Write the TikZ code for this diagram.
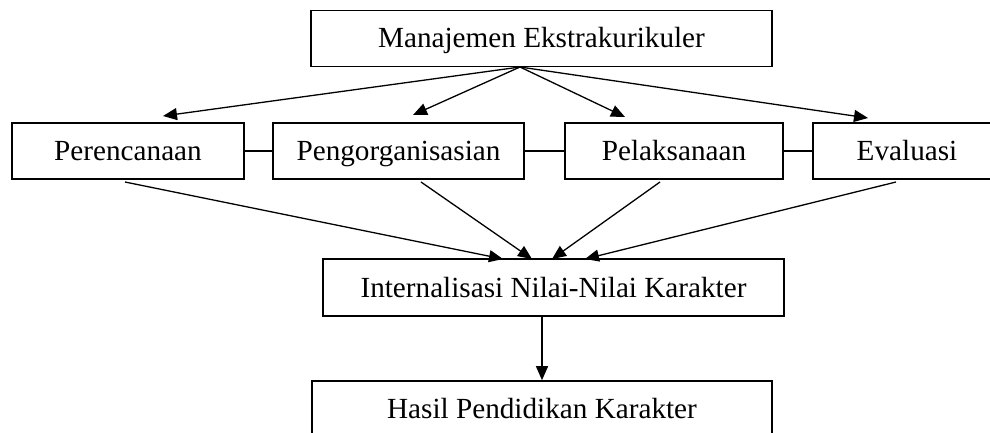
\documentclass[tikz,border=0pt]{standalone}
\usepackage{fontspec}
\setmainfont{Liberation Serif}
\usetikzlibrary{arrows.meta}
\begin{document}
\begin{tikzpicture}[x=1pt,y=-1pt,
  boxnode/.style={draw=black,line width=1.6pt,inner sep=0pt,minimum height=56pt,text height=23.4pt,text depth=4.1pt,font=\fontsize{29.2}{34}\selectfont},
  arrowline/.style={line width=1.3pt,-{Triangle[length=14pt,width=12pt]}},
  linkline/.style={line width=1.6pt}]
\useasboundingbox (0,0) rectangle (990,432);
\clip (0,0) rectangle (990,432);
\node[boxnode,minimum width=461pt] (top) at (541.5,38.3) {Manajemen Ekstrakurikuler};
\node[boxnode,minimum width=232pt] (p1) at (128,151) {Perencanaan};
\node[boxnode,minimum width=251pt] (p2) at (398.5,151) {Pengorganisasian};
\node[boxnode,minimum width=218pt] (p3) at (674,151) {Pelaksanaan};
\node[boxnode,minimum width=188pt] (p4) at (907,151) {Evaluasi};
\node[boxnode,minimum width=461pt,minimum height=57pt] (int) at (553.5,287.5) {Internalisasi Nilai-Nilai Karakter};
\node[boxnode,minimum width=460pt] (has) at (542,409) {Hasil Pendidikan Karakter};
% coordinates
\coordinate (src) at (520,67);
\coordinate (t1) at (163,116);
\coordinate (t2) at (413,115);
\coordinate (t3) at (625,117);
\coordinate (t4) at (868,118);
\coordinate (s1) at (125,182);
\coordinate (s2) at (421,182);
\coordinate (s3) at (660,182);
\coordinate (s4) at (896,182);
\coordinate (u1) at (503,259);
\coordinate (u2) at (532,259);
\coordinate (u3) at (552,259);
\coordinate (u4) at (585,259);
\draw[arrowline] (src) -- (t1);
\draw[arrowline] (src) -- (t2);
\draw[arrowline] (src) -- (t3);
\draw[arrowline] (src) -- (t4);
\draw[linkline] (p1.east) -- (p2.west);
\draw[linkline] (p2.east) -- (p3.west);
\draw[linkline] (p3.east) -- (p4.west);
\draw[arrowline] (s1) -- (u1);
\draw[arrowline] (s2) -- (u2);
\draw[arrowline] (s3) -- (u3);
\draw[arrowline] (s4) -- (u4);
\draw[arrowline] (int.south -| has.north) -- (has.north);
\end{tikzpicture}
\end{document}
